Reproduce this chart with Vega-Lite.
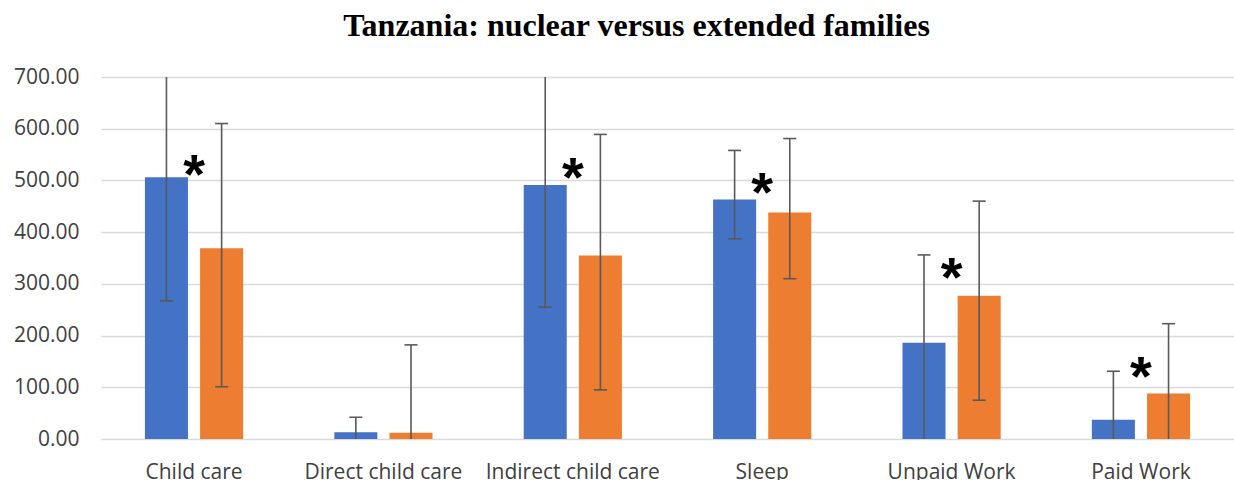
{
  "$schema": "https://vega.github.io/schema/vega-lite/v6.json",
  "width": 1133,
  "height": 362,
  "autosize": {"type": "none"},
  "padding": {"left": 101, "top": 77, "right": 0, "bottom": 41},
  "background": "white",
  "title": {
    "text": "Tanzania: nuclear versus extended families",
    "font": "Liberation Serif",
    "fontSize": 32,
    "fontWeight": "bold",
    "color": "#000000",
    "anchor": "middle",
    "dx": -31,
    "offset": 23
  },
  "datasets": {
    "bars": [
      {"cat": "Child care", "grp": "Nuclear", "mean": 506, "lo": 267, "hi": 745},
      {"cat": "Child care", "grp": "Extended", "mean": 369, "lo": 101, "hi": 610},
      {"cat": "Direct child care", "grp": "Nuclear", "mean": 13, "lo": -16, "hi": 42},
      {"cat": "Direct child care", "grp": "Extended", "mean": 12, "lo": -158, "hi": 182},
      {"cat": "Indirect child care", "grp": "Nuclear", "mean": 491, "lo": 255, "hi": 727},
      {"cat": "Indirect child care", "grp": "Extended", "mean": 355, "lo": 95, "hi": 589},
      {"cat": "Sleep", "grp": "Nuclear", "mean": 463, "lo": 387, "hi": 558},
      {"cat": "Sleep", "grp": "Extended", "mean": 438, "lo": 310, "hi": 581},
      {"cat": "Unpaid Work", "grp": "Nuclear", "mean": 186, "lo": -5, "hi": 356},
      {"cat": "Unpaid Work", "grp": "Extended", "mean": 277, "lo": 75, "hi": 460},
      {"cat": "Paid Work", "grp": "Nuclear", "mean": 37, "lo": -57, "hi": 131},
      {"cat": "Paid Work", "grp": "Extended", "mean": 88, "lo": -47, "hi": 223}
    ],
    "stars": [
      {"cat": "Child care", "y": 534},
      {"cat": "Indirect child care", "y": 528},
      {"cat": "Sleep", "y": 498},
      {"cat": "Unpaid Work", "y": 335},
      {"cat": "Paid Work", "y": 143}
    ]
  },
  "config": {
    "view": {"stroke": null},
    "font": "Open Sans"
  },
  "layer": [
    {
      "data": {"name": "bars"},
      "mark": {"type": "bar"},
      "encoding": {
        "x": {
          "field": "cat", "type": "nominal", "sort": null,
          "scale": {"paddingInner": 0.4815, "paddingOuter": 0.232},
          "axis": {"title": null, "labelAngle": 0, "labelFontSize": 21, "labelColor": "#404040", "labelFont": "Open Sans", "domain": false, "ticks": false, "labelPadding": 22, "grid": false}
        },
        "xOffset": {"field": "grp", "type": "nominal", "sort": ["Nuclear", "Extended"], "scale": {"paddingInner": 0.22, "paddingOuter": 0}},
        "y": {
          "field": "mean", "type": "quantitative",
          "scale": {"domain": [0, 700], "nice": false},
          "axis": {"title": null, "values": [0, 100, 200, 300, 400, 500, 600, 700], "format": ".2f", "labelFontSize": 21, "labelColor": "#404040", "labelFont": "Open Sans", "domain": false, "ticks": false, "labelPadding": 22, "gridColor": "#d9d9d9", "gridWidth": 1.5}
        },
        "color": {"field": "grp", "type": "nominal", "sort": ["Nuclear", "Extended"], "scale": {"domain": ["Nuclear", "Extended"], "range": ["#4472C4", "#ED7D31"]}, "legend": null}
      }
    },
    {
      "data": {"name": "bars"},
      "mark": {"type": "rule", "color": "#595959", "strokeWidth": 1.6, "clip": true},
      "encoding": {
        "x": {"field": "cat", "type": "nominal", "sort": null},
        "xOffset": {"field": "grp", "type": "nominal", "sort": ["Nuclear", "Extended"]},
        "y": {"field": "lo", "type": "quantitative"},
        "y2": {"field": "hi"}
      }
    },
    {
      "data": {"name": "bars"},
      "mark": {"type": "tick", "color": "#595959", "thickness": 1.6, "size": 13, "clip": true, "opacity": 1},
      "encoding": {
        "x": {"field": "cat", "type": "nominal", "sort": null},
        "xOffset": {"field": "grp", "type": "nominal", "sort": ["Nuclear", "Extended"]},
        "y": {"field": "lo", "type": "quantitative"}
      }
    },
    {
      "data": {"name": "bars"},
      "mark": {"type": "tick", "color": "#595959", "thickness": 1.6, "size": 13, "clip": true, "opacity": 1},
      "encoding": {
        "x": {"field": "cat", "type": "nominal", "sort": null},
        "xOffset": {"field": "grp", "type": "nominal", "sort": ["Nuclear", "Extended"]},
        "y": {"field": "hi", "type": "quantitative"}
      }
    },
    {
      "data": {"name": "stars"},
      "mark": {"type": "text", "text": "*", "font": "Liberation Sans", "fontSize": 56, "fontWeight": "bold", "color": "#000000", "baseline": "middle", "dy": 13},
      "encoding": {
        "x": {"field": "cat", "type": "nominal", "sort": null},
        "y": {"field": "y", "type": "quantitative"}
      }
    }
  ]
}
